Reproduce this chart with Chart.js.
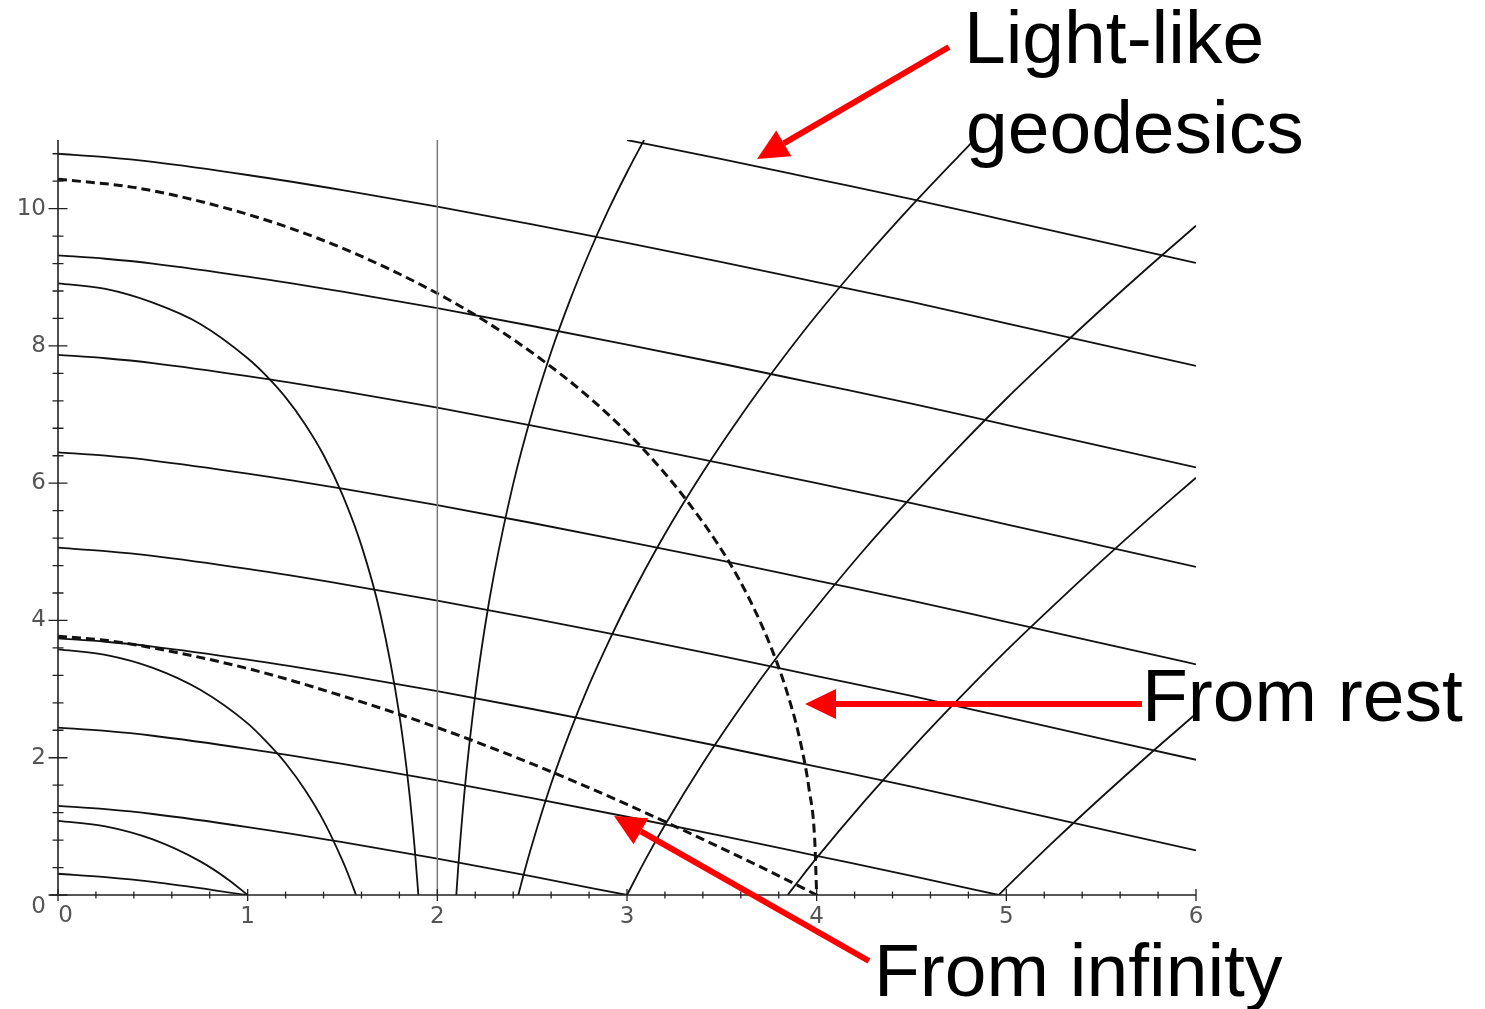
<!DOCTYPE html>
<html lang="en">
<head>
    <meta charset="utf-8" />
    <title>Light-like geodesics</title>
    <script src="https://cdn.jsdelivr.net/npm/chart.js@4.4.1/dist/chart.umd.min.js"></script>
    <style>
        body { margin: 0; background: #fff; }
        #wrap { position: relative; width: 1485px; height: 1009px; overflow: hidden; }
        #myChart { position: absolute; left: 0; top: 0; }
        .note { position: absolute; font-family: "Liberation Sans", Arial, sans-serif; font-size: 75px; line-height: 75px; color: #000; white-space: nowrap; }
    </style>
</head>
<body>
<div id="wrap">
    <canvas id="myChart" width="1485" height="1009"></canvas>
    <div class="note" style="left:964px; top:0px;">Light-like</div>
    <div class="note" style="left:966px; top:90px;">geodesics</div>
    <div class="note" style="left:1142px; top:658px;">From rest</div>
    <div class="note" style="left:874px; top:933px;">From infinity</div>
</div>
<script>
// tick labels
var xTicks = [0, 1, 2, 3, 4, 5, 6];
var yTicks = [0, 2, 4, 6, 8, 10];

// ingoing light rays [r, t]
var inRay0 = [[3, 11.00], [3.5, 10.72], [4, 10.43], [4.5, 10.14], [5, 9.83], [5.5, 9.52], [6, 9.21]];
var inRay1 = [[0, 10.80], [0.25, 10.75], [0.5, 10.68], [1, 10.49], [1.5, 10.27], [2, 10.03], [2.5, 9.77], [3, 9.50], [3.5, 9.22], [4, 8.93], [4.5, 8.64], [5, 8.33], [5.5, 8.02], [6, 7.71]];
var inRay2 = [[0, 9.32], [0.25, 9.27], [0.5, 9.20], [1, 9.01], [1.5, 8.79], [2, 8.55], [2.5, 8.29], [3, 8.02], [3.5, 7.74], [4, 7.45], [4.5, 7.16], [5, 6.85], [5.5, 6.54], [6, 6.23]];
var inRay3 = [[0, 7.87], [0.25, 7.82], [0.5, 7.75], [1, 7.56], [1.5, 7.34], [2, 7.10], [2.5, 6.84], [3, 6.57], [3.5, 6.29], [4, 6.00], [4.5, 5.71], [5, 5.40], [5.5, 5.09], [6, 4.78]];
var inRay4 = [[0, 6.45], [0.25, 6.40], [0.5, 6.33], [1, 6.14], [1.5, 5.92], [2, 5.68], [2.5, 5.42], [3, 5.15], [3.5, 4.87], [4, 4.58], [4.5, 4.29], [5, 3.98], [5.5, 3.67], [6, 3.36]];
var inRay5 = [[0, 5.06], [0.25, 5.01], [0.5, 4.94], [1, 4.75], [1.5, 4.53], [2, 4.29], [2.5, 4.03], [3, 3.76], [3.5, 3.48], [4, 3.19], [4.5, 2.90], [5, 2.59], [5.5, 2.28], [6, 1.97]];
var inRay6 = [[0, 3.74], [0.25, 3.69], [0.5, 3.62], [1, 3.43], [1.5, 3.21], [2, 2.97], [2.5, 2.71], [3, 2.44], [3.5, 2.16], [4, 1.87], [4.5, 1.58], [5, 1.27], [5.5, 0.96], [6, 0.65]];
var inRay7 = [[0, 2.44], [0.25, 2.39], [0.5, 2.32], [1, 2.13], [1.5, 1.91], [2, 1.67], [2.5, 1.41], [3, 1.14], [3.5, 0.86], [4, 0.57], [4.5, 0.28], [4.96, 0]];
var inRay8 = [[0, 1.30], [0.25, 1.25], [0.5, 1.18], [1, 0.99], [1.5, 0.77], [2, 0.53], [2.5, 0.27], [3, 0]];
var inRay9 = [[0, 0.31], [0.25, 0.26], [0.5, 0.19], [1, 0]];

// outgoing light rays inside the horizon
var outInA = [[0, 8.91], [0.25, 8.83], [0.5, 8.63], [0.75, 8.32], [1, 7.82], [1.1, 7.56], [1.2, 7.25], [1.3, 6.87], [1.4, 6.41], [1.5, 5.83], [1.6, 5.09], [1.7, 4.09], [1.8, 2.62], [1.85, 1.55], [1.88, 0.70], [1.9, 0]];
var outInB = [[0, 3.58], [0.25, 3.50], [0.5, 3.31], [0.75, 2.99], [1, 2.50], [1.1, 2.23], [1.2, 1.92], [1.3, 1.54], [1.4, 1.08], [1.5, 0.50], [1.54, 0.23], [1.571, 0]];
var outInC = [[0, 1.08], [0.25, 1.00], [0.5, 0.81], [0.75, 0.49], [0.9, 0.22], [1, 0]];

// outgoing light rays outside the horizon
var outRay1 = [[2.1, 0], [2.11, 0.40], [2.12, 0.76], [2.15, 1.70], [2.2, 2.92], [2.25, 3.89], [2.3, 4.69], [2.4, 5.99], [2.5, 7.03], [2.6, 7.91], [2.7, 8.67], [2.8, 9.35], [2.9, 9.97], [3.0, 10.53], [3.09, 11.0]];
var outRay2 = [[2.427, 0], [2.44, 0.14], [2.46, 0.35], [2.5, 0.74], [2.6, 1.62], [2.7, 2.38], [2.8, 3.06], [2.9, 3.67], [3.0, 4.24], [3.2, 5.26], [3.4, 6.16], [3.6, 6.98], [3.8, 7.74], [4.0, 8.45], [4.25, 9.27], [4.5, 10.04], [4.75, 10.77], [4.83, 11.0]];
var outRay3 = [[3.0, 0], [3.1, 0.53], [3.2, 1.02], [3.4, 1.92], [3.6, 2.74], [3.8, 3.50], [4.0, 4.20], [4.25, 5.03], [4.5, 5.80], [4.75, 6.53], [5.0, 7.23], [5.25, 7.89], [5.5, 8.53], [5.75, 9.15], [6.0, 9.75]];
var outRay4 = [[3.847, 0], [3.9, 0.19], [4.0, 0.54], [4.25, 1.36], [4.5, 2.13], [4.75, 2.86], [5.0, 3.56], [5.25, 4.22], [5.5, 4.86], [5.75, 5.48], [6.0, 6.08]];
var outRay5 = [[4.96, 0], [5.0, 0.11], [5.25, 0.78], [5.5, 1.42], [5.75, 2.04], [6.0, 2.64]];

// horizon r = 2
var horizon = [[2, 0], [2, 11]];

// infall, dashed
var fromRest = [[0, 10.43], [0.398, 10.31], [0.744, 10.11], [1.168, 9.77], [1.546, 9.37], [1.942, 8.85], [2.241, 8.38], [2.535, 7.83], [2.817, 7.21], [3.081, 6.51], [3.32, 5.73], [3.53, 4.89], [3.651, 4.28], [3.755, 3.64], [3.842, 2.97], [3.911, 2.27], [3.96, 1.54], [3.99, 0.79], [4.0, 0]];
var fromInfinity = [[0, 3.77], [0.25, 3.71], [0.5, 3.60], [1.0, 3.30], [1.5, 2.90], [2.0, 2.44], [2.5, 1.91], [3.0, 1.32], [3.5, 0.68], [3.8, 0.28], [4.0, 0]];

function curve(pairs, dashed) {
    return {
        data: pairs.map(function (p) { return { x: p[0], y: p[1] }; }),
        showLine: true,
        pointRadius: 0,
        borderColor: '#111',
        borderWidth: dashed ? 3 : 1.8,
        borderDash: dashed ? [9, 5] : [],
        cubicInterpolationMode: 'monotone',
        fill: false
    };
}

var datasets = [inRay0, inRay1, inRay2, inRay3, inRay4, inRay5, inRay6, inRay7, inRay8, inRay9,
    outInA, outInB, outInC, outRay1, outRay2, outRay3, outRay4, outRay5].map(function (c) { return curve(c, false); });
datasets.unshift({
    data: horizon.map(function (p) { return { x: p[0], y: p[1] }; }),
    showLine: true, pointRadius: 0, borderColor: '#7a7a7a', borderWidth: 1.5, tension: 0
});
datasets.push(curve(fromRest, true));
datasets.push(curve(fromInfinity, true));

// axis lines, cross ticks and the two shifted zero labels
var axesPlugin = {
    id: 'axesPlugin',
    afterDatasetsDraw: function (chart) {
        var ctx = chart.ctx, xs = chart.scales.x, ys = chart.scales.y;
        var a = chart.chartArea, v, p;
        ctx.save();
        ctx.strokeStyle = '#222';
        ctx.lineWidth = 1.6;
        ctx.beginPath();
        ctx.moveTo(a.left, a.top); ctx.lineTo(a.left, a.bottom);
        ctx.moveTo(a.left - 8, a.bottom); ctx.lineTo(a.right, a.bottom);
        ctx.stroke();
        ctx.lineWidth = 1.3;
        ctx.beginPath();
        for (v = 0; v <= 10.81; v += 0.4) {
            p = ys.getPixelForValue(v);
            var big = Math.abs(v / 2 - Math.round(v / 2)) < 0.01;
            var len = big ? 9.5 : 5.5;
            ctx.moveTo(a.left - len, p); ctx.lineTo(a.left + len, p);
        }
        for (v = 0; v <= 6.01; v += 0.2) {
            p = xs.getPixelForValue(v);
            var major = Math.abs(v - Math.round(v)) < 0.01;
            var l2 = major ? 6 : 3.5;
            ctx.moveTo(p, a.bottom - l2); ctx.lineTo(p, a.bottom + l2);
        }
        ctx.stroke();
        ctx.fillStyle = '#555';
        ctx.font = '23px "DejaVu Sans"';
        ctx.textBaseline = 'middle';
        ctx.textAlign = 'center';
        ctx.fillText('0', xs.getPixelForValue(0) + 7.5, a.bottom + 21);
        ctx.textAlign = 'right';
        ctx.fillText('0', a.left - 12, a.bottom + 12);
        ctx.restore();
    }
};

function arrow(ctx, x0, y0, x1, y1) {
    var ang = Math.atan2(y1 - y0, x1 - x0), head = 31, half = 15;
    var bx = x1 - head * Math.cos(ang), by = y1 - head * Math.sin(ang);
    ctx.beginPath();
    ctx.moveTo(x0, y0); ctx.lineTo(bx, by);
    ctx.stroke();
    ctx.beginPath();
    ctx.moveTo(x1, y1);
    ctx.lineTo(bx + half * Math.sin(ang), by - half * Math.cos(ang));
    ctx.lineTo(bx - half * Math.sin(ang), by + half * Math.cos(ang));
    ctx.closePath();
    ctx.fill();
}

var arrowPlugin = {
    id: 'arrowPlugin',
    afterDraw: function (chart) {
        var ctx = chart.ctx;
        ctx.save();
        ctx.strokeStyle = '#ff0000';
        ctx.fillStyle = '#ff0000';
        ctx.lineWidth = 6;
        arrow(ctx, 949, 47, 757, 159);
        arrow(ctx, 1142, 704, 805, 704);
        arrow(ctx, 869, 961, 614, 816);
        ctx.restore();
    }
};

var tickFont = { family: 'DejaVu Sans', size: 23 };

new Chart(document.getElementById('myChart'), {
    type: 'scatter',
    data: { datasets: datasets },
    options: {
        responsive: false,
        animation: false,
        layout: { padding: { top: 140, right: 289, left: 0, bottom: 0 } },
        plugins: { legend: { display: false }, tooltip: { enabled: false } },
        scales: {
            x: {
                type: 'linear', min: 0, max: 6,
                afterBuildTicks: function (s) { s.ticks = xTicks.map(function (v) { return { value: v }; }); },
                afterFit: function (s) { s.height = 114; },
                grid: { display: false, drawTicks: false },
                border: { display: false },
                ticks: {
                    padding: 8, color: '#555', font: tickFont, maxRotation: 0, autoSkip: false,
                    callback: function (v) { return v === 0 ? '' : v; }
                }
            },
            y: {
                type: 'linear', min: 0, max: 11,
                afterBuildTicks: function (s) { s.ticks = yTicks.map(function (v) { return { value: v }; }); },
                afterFit: function (s) { s.width = 58; },
                grid: { display: false, drawTicks: false },
                border: { display: false },
                ticks: {
                    padding: 12, color: '#555', font: tickFont, autoSkip: false,
                    callback: function (v) { return v === 0 ? '' : v; }
                }
            }
        }
    },
    plugins: [axesPlugin, arrowPlugin]
});
</script>
</body>
</html>
